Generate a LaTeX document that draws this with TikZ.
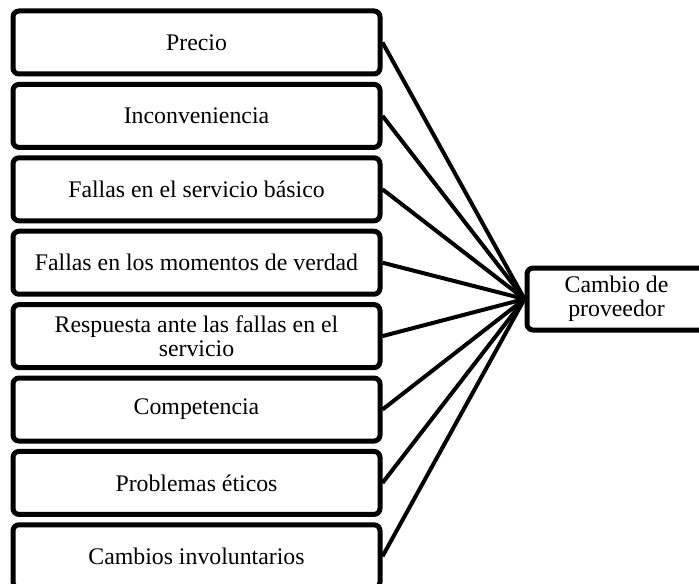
\documentclass[tikz,border=0pt]{standalone}
\usepackage{fontspec}
\setmainfont{Liberation Serif}
\begin{document}
\begin{tikzpicture}[x=1pt, y=1pt,
    causa/.style={draw, line width=2.5pt, rounded corners=3pt, minimum width=183.5pt, minimum height=31.5pt, inner sep=1pt, align=center, font=\fontsize{11.9}{12}\selectfont},
    efecto/.style={draw, line width=2.5pt, rounded corners=3pt, minimum width=89.5pt, minimum height=31pt, inner sep=1pt, align=center, font=\fontsize{11.9}{11.8}\selectfont},
    enlace/.style={line width=2pt}]
            \useasboundingbox (0,0) rectangle (349.5,-291.5);
            \node[causa] (precio) at (98.25,-21.25) {Precio};
            \node[causa] (inconv) at (98.25,-57.95) {Inconveniencia};
            \node[causa] (basico) at (98.25,-94.65) {Fallas en el servicio básico};
            \node[causa] (momentos) at (98.25,-131.35) {Fallas en los momentos de verdad};
            \node[causa] (respuesta) at (98.25,-168.05) {Respuesta ante las fallas en el\\servicio};
            \node[causa] (compet) at (98.25,-204.75) {Competencia};
            \node[causa] (etica) at (98.25,-241.45) {Problemas éticos};
            \node[causa] (involunt) at (98.25,-278.15) {Cambios involuntarios};
            \node[efecto] (cambio) at (308.25,-149.5) {Cambio de\\proveedor};
            \draw[enlace] (precio.east) -- (cambio.west);
            \draw[enlace] (inconv.east) -- (cambio.west);
            \draw[enlace] (basico.east) -- (cambio.west);
            \draw[enlace] (momentos.east) -- (cambio.west);
            \draw[enlace] (respuesta.east) -- (cambio.west);
            \draw[enlace] (compet.east) -- (cambio.west);
            \draw[enlace] (etica.east) -- (cambio.west);
            \draw[enlace] (involunt.east) -- (cambio.west);
        \end{tikzpicture}
\end{document}
